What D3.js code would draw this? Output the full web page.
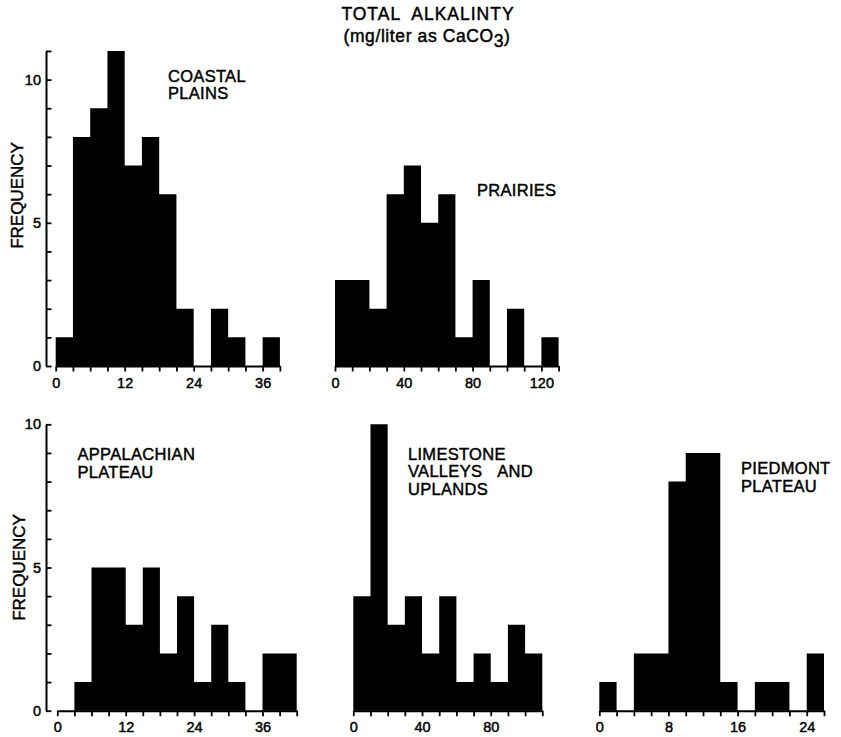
<!DOCTYPE html>
<html>
<head>
<meta charset="utf-8">
<script src="https://cdn.jsdelivr.net/npm/d3@7"></script>
<style>
  html, body { margin: 0; padding: 0; background: #fff; }
  svg { display: block; }
  text { font-family: "Liberation Sans", Arial, Helvetica, sans-serif; fill: #000; stroke: #000; stroke-width: 0.45px; }
</style>
</head>
<body>
<svg id="chart" width="841" height="737"></svg>
<script>
// Frequency counts per bin, for each region
const coastalCounts     = [1, 8, 9, 11, 7, 8, 6, 2, 0, 2, 1, 0, 1];
const prairiesCounts    = [3, 3, 2, 6, 7, 5, 6, 1, 3, 0, 2, 0, 1];
const appalachianCounts = [0, 1, 5, 5, 3, 5, 2, 4, 1, 3, 1, 0, 2, 2];
const limestoneCounts   = [4, 10, 3, 4, 2, 4, 1, 2, 1, 3, 2];
const piedmontCounts    = [1, 0, 2, 2, 8, 9, 9, 1, 0, 1, 1, 0, 2];

// Bin widths (mg/liter)
const binWidths = [3, 10, 3, 10, 2];

// Labelled x ticks per panel
const coastalTicks     = [0, 12, 24, 36];
const prairiesTicks    = [0, 40, 80, 120];
const appalachianTicks = [0, 12, 24, 36];
const limestoneTicks   = [0, 40, 80];
const piedmontTicks    = [0, 8, 16, 24];

// Labelled y ticks
const yTickLabels = [0, 5, 10];

// Region names, one array per line; a line may hold several words set apart
const regionNames = [
  [["COASTAL"], ["PLAINS"]],
  [["PRAIRIES"]],
  [["APPALACHIAN"], ["PLATEAU"]],
  [["LIMESTONE"], ["VALLEYS", "AND"], ["UPLANDS"]],
  [["PIEDMONT"], ["PLATEAU"]]
];

const svg = d3.select("#chart");
const ink = "#000";

// Panel layout: pixel range of each histogram and where its label sits
const layout = [
  { counts: coastalCounts,     ticks: coastalTicks,     x0: 55.7,  x1: 279.9, base: 366,   yAxisTop: 11,   label: [168, 81.5] },
  { counts: prairiesCounts,    ticks: prairiesTicks,    x0: 335,   x1: 558.6, base: 366,   yAxisTop: null, label: [477, 195.5] },
  { counts: appalachianCounts, ticks: appalachianTicks, x0: 57.3,  x1: 296.7, base: 710.7, yAxisTop: 10,   label: [77.5, 460] },
  { counts: limestoneCounts,   ticks: limestoneTicks,   x0: 353.3, x1: 542.3, base: 710.7, yAxisTop: null, label: [408, 459.5] },
  { counts: piedmontCounts,    ticks: piedmontTicks,    x0: 599.3, x1: 824,   base: 710.7, yAxisTop: null, label: [741, 474] }
];

const unitPx = 28.64;   // pixels per count
const yAxisX = 46;
const wordGap = 15;     // wide gap between words on one label line

layout.forEach((p, i) => {
  const bw = binWidths[i];
  const n = p.counts.length;
  const x = d3.scaleLinear().domain([0, n * bw]).range([p.x0, p.x1]);
  const y = d3.scaleLinear().domain([0, 10]).range([p.base, p.base - 10 * unitPx]);

  const g = svg.append("g");

  // histogram drawn as one stepped solid shape
  const steps = p.counts.map((c, k) => ({ edge: k * bw, c }));
  steps.push({ edge: n * bw, c: p.counts[n - 1] });
  const area = d3.area()
    .curve(d3.curveStepAfter)
    .x(d => x(d.edge))
    .y0(y(0))
    .y1(d => y(d.c));
  g.append("path").attr("d", area(steps)).attr("fill", ink);

  // x axis: a tick at every bin edge, labels on selected values
  const edges = d3.range(0, n + 1).map(k => k * bw);
  const xAxis = d3.axisBottom(x)
    .tickValues(edges)
    .tickSizeInner(5.5)
    .tickSizeOuter(0)
    .tickPadding(6)
    .tickFormat(v => p.ticks.includes(v) ? String(v) : "");
  const xg = g.append("g").attr("transform", `translate(0,${p.base})`).call(xAxis);
  xg.select(".domain").attr("stroke", ink).attr("stroke-width", 2);
  xg.selectAll(".tick line").attr("stroke", ink).attr("stroke-width", 1.8);
  xg.selectAll(".tick text")
    .attr("font-size", 14.5)
    .attr("font-family", "Liberation Sans, Arial, sans-serif")
    .attr("fill", ink);

  // y axis (left column only), ticks pointing inward
  if (p.yAxisTop !== null) {
    const yAxis = d3.axisLeft(y.copy().domain([0, p.yAxisTop]).range([p.base, p.base - p.yAxisTop * unitPx]))
      .tickValues(d3.range(0, p.yAxisTop + 1))
      .tickSizeInner(-5.5)
      .tickSizeOuter(0)
      .tickPadding(5)
      .tickFormat(v => yTickLabels.includes(v) ? String(v) : "");
    const yg = g.append("g").attr("transform", `translate(${yAxisX},0)`).call(yAxis);
    yg.select(".domain").attr("stroke", ink).attr("stroke-width", 2);
    yg.selectAll(".tick line").attr("stroke", ink).attr("stroke-width", 1.8);
    yg.selectAll(".tick text")
      .attr("font-size", 14.5)
      .attr("font-family", "Liberation Sans, Arial, sans-serif")
      .attr("fill", ink);

    // axis title
    svg.append("text")
      .attr("transform", `translate(${i === 0 ? 22.5 : 24.5},${i === 0 ? 195.5 : 567.5}) rotate(-90)`)
      .attr("text-anchor", "middle")
      .attr("font-size", 17)
      .text("FREQUENCY");
  }

  // region name, line by line
  regionNames[i].forEach((words, j) => {
    const t = svg.append("text")
      .attr("x", p.label[0])
      .attr("y", p.label[1] + j * 17.7)
      .attr("font-size", 16.5)
      .attr("letter-spacing", 0.3);
    words.forEach((w, k) => {
      const s = t.append("tspan").text(w);
      if (k > 0) s.attr("dx", wordGap);
    });
  });
});

// chart title
svg.append("text")
  .attr("x", 428).attr("y", 19.5)
  .attr("text-anchor", "middle")
  .attr("font-size", 17.5)
  .attr("letter-spacing", 1)
  .style("white-space", "pre")
  .text("TOTAL  ALKALINTY");

const sub = svg.append("text")
  .attr("x", 427).attr("y", 42)
  .attr("text-anchor", "middle")
  .attr("font-size", 17.5)
  .attr("letter-spacing", 0.6);
sub.append("tspan").text("(mg/liter as CaCO");
sub.append("tspan").attr("dy", 5).text("3");
sub.append("tspan").attr("dy", -5).text(")");
</script>
</body>
</html>
